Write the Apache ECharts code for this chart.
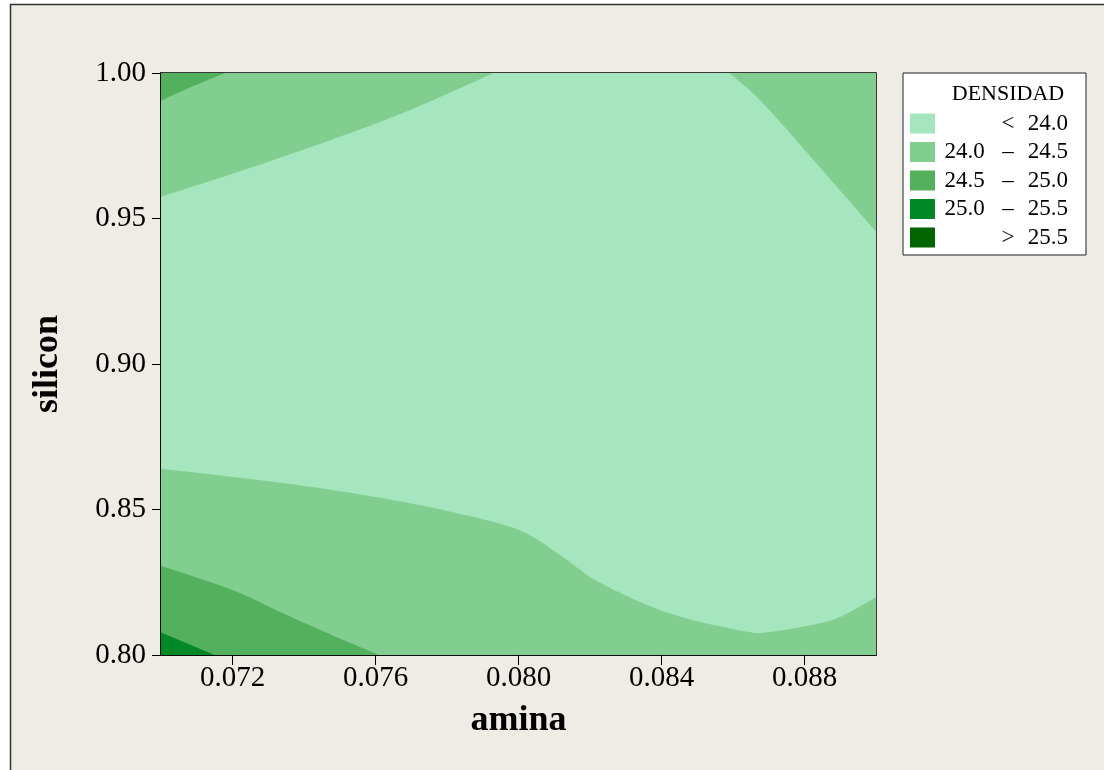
<!DOCTYPE html>
<html>
<head>
<meta charset="utf-8">
<script src="https://cdn.jsdelivr.net/npm/echarts@6/dist/echarts.min.js"></script>
<style>
  html, body { margin: 0; padding: 0; background: #fff; }
  #main { width: 1104px; height: 770px; }
</style>
</head>
<body>
<div id="main"></div>
<script>
// contour bands of DENSIDAD, boundaries as [amina, silicon]
var levelNames = ['< 24.0', '24.0 – 24.5', '24.5 – 25.0', '25.0 – 25.5', '> 25.5'];
var levelColors = ['#A6E6BE', '#82CD90', '#53B05C', '#008827', '#006400'];

var xTicks = [0.072, 0.076, 0.080, 0.084, 0.088];

var lower240 = [[0.0700, 0.8640], [0.0720, 0.8612], [0.0740, 0.8581], [0.0760, 0.8543], [0.0780, 0.8495],
    [0.0800, 0.8430], [0.0812, 0.8340], [0.0823, 0.8247], [0.0842, 0.8144], [0.0863, 0.8082],
    [0.0870, 0.8079], [0.0882, 0.8103], [0.0890, 0.8131], [0.0900, 0.8199]];
var lower245 = [[0.0700, 0.8306], [0.0720, 0.8223], [0.0734, 0.8144], [0.0749, 0.8062], [0.0761, 0.8000]];
var lower250 = [[0.0700, 0.8077], [0.0715, 0.8000]];
var upper240L = [[0.0700, 0.9575], [0.0725, 0.9674], [0.0753, 0.9794], [0.0772, 0.9885], [0.0793, 1.0000]];
var upper245L = [[0.0700, 0.9905], [0.0709, 0.9955], [0.0718, 1.0000]];
var upper240R = [[0.0859, 1.0000], [0.0868, 0.9901], [0.0882, 0.9708], [0.0900, 0.9455]];

var xMin = 0.070, xMax = 0.090, yMin = 0.80, yMax = 1.00;

// each band: list of {curve, corners}
var bands = [
    [{ curve: [], corners: [[xMin, yMin], [xMax, yMin], [xMax, yMax], [xMin, yMax]] }],
    [{ curve: lower240, corners: [[xMax, yMin], [xMin, yMin]] },
     { curve: upper240L, corners: [[xMin, yMax]] },
     { curve: upper240R, corners: [[xMax, yMax]] }],
    [{ curve: lower245, corners: [[xMin, yMin]] },
     { curve: upper245L, corners: [[xMin, yMax]] }],
    [{ curve: lower250, corners: [[xMin, yMin]] }],
    []
];

// smooth a pixel polyline with a catmull-rom spline
function smoothLine(pts) {
    if (pts.length < 3) return pts;
    var out = [];
    for (var i = 0; i < pts.length - 1; i++) {
        var p0 = pts[Math.max(i - 1, 0)], p1 = pts[i], p2 = pts[i + 1], p3 = pts[Math.min(i + 2, pts.length - 1)];
        for (var s = 0; s < 12; s++) {
            var t = s / 12, t2 = t * t, t3 = t2 * t;
            out.push([0, 1].map(function (d) {
                return 0.5 * (2 * p1[d] + (-p0[d] + p2[d]) * t +
                    (2 * p0[d] - 5 * p1[d] + 4 * p2[d] - p3[d]) * t2 +
                    (-p0[d] + 3 * p1[d] - 3 * p2[d] + p3[d]) * t3);
            }));
        }
    }
    out.push(pts[pts.length - 1]);
    return out;
}

var font = 'Liberation Serif';
var myChart = echarts.init(document.getElementById('main'));

var series = bands.map(function (polys, k) {
    return {
        name: levelNames[k],
        type: 'custom',
        coordinateSystem: 'cartesian2d',
        itemStyle: { color: levelColors[k] },
        silent: true,
        data: polys.map(function (p, i) { return [xMin, yMin, i]; }),
        renderItem: function (params, api) {
            var poly = polys[params.dataIndex];
            var pts = smoothLine(poly.curve.map(function (p) { return api.coord(p); }))
                .concat(poly.corners.map(function (p) { return api.coord(p); }));
            return {
                type: 'polygon',
                shape: { points: pts },
                style: { fill: levelColors[k] }
            };
        }
    };
});

var option = {
    backgroundColor: '#fff',
    animation: false,
    graphic: [{
        type: 'rect',
        z: -10,
        shape: { x: 10.5, y: 4.5, width: 1200, height: 1000 },
        style: { fill: '#EFEBE5', stroke: '#333', lineWidth: 1.5 }
    }, {
        type: 'text',
        z: 100,
        x: 1008, y: 94,
        style: {
            text: 'DENSIDAD', fill: '#000', font: '22px "' + font + '"',
            textAlign: 'center', textVerticalAlign: 'middle'
        }
    }],
    grid: {
        left: 161, top: 73, right: 228, bottom: 115,
        show: true, borderColor: '#000', borderWidth: 1.5, backgroundColor: 'transparent'
    },
    legend: {
        orient: 'vertical',
        left: 903, top: 73,
        padding: [39, 18, 6, 7],
        itemWidth: 25, itemHeight: 20, itemGap: 5.5,
        icon: 'rect',
        backgroundColor: '#fff',
        borderColor: '#222', borderWidth: 1,
        selectedMode: false,
        data: levelNames,
        formatter: function (name) {
            var i = levelNames.indexOf(name);
            if (i === 0) return '{lo| }{d|<}{hi|24.0}';
            if (i === 4) return '{lo| }{d|>}{hi|25.5}';
            var parts = name.split(' – ');
            return '{lo|' + parts[0] + '}{d|–}{hi|' + parts[1] + '}';
        },
        textStyle: {
            fontFamily: font, fontSize: 23, color: '#000',
            rich: {
                lo: { width: 49, align: 'right', fontFamily: font, fontSize: 23 },
                d: { width: 38, align: 'center', fontFamily: font, fontSize: 23 },
                hi: { width: 41, align: 'right', fontFamily: font, fontSize: 23 }
            }
        }
    },
    xAxis: {
        type: 'value',
        min: xMin, max: xMax,
        name: 'amina', nameLocation: 'middle', nameGap: 48,
        nameTextStyle: { fontFamily: font, fontSize: 36, fontWeight: 'bold', color: '#000' },
        axisLine: { show: true, lineStyle: { color: '#000', width: 1.5 } },
        axisTick: { show: true, length: 10, lineStyle: { color: '#000' }, customValues: xTicks },
        axisLabel: {
            fontFamily: font, fontSize: 29, color: '#000', margin: 9,
            customValues: xTicks,
            formatter: function (v) { return v.toFixed(3); }
        },
        splitLine: { show: false }
    },
    yAxis: {
        type: 'value',
        min: yMin, max: yMax, interval: 0.05,
        name: 'silicon', nameLocation: 'middle', nameGap: 95,
        nameTextStyle: { fontFamily: font, fontSize: 36, fontWeight: 'bold', color: '#000' },
        axisLine: { show: true, lineStyle: { color: '#000', width: 1.5 } },
        axisTick: { show: true, length: 9, lineStyle: { color: '#000' } },
        axisLabel: {
            fontFamily: font, fontSize: 29, color: '#000', margin: 15,
            formatter: function (v) { return v.toFixed(2); }
        },
        splitLine: { show: false }
    },
    series: series
};

myChart.setOption(option);
window.onresize = function () {
    myChart.resize();
};
</script>
</body>
</html>
